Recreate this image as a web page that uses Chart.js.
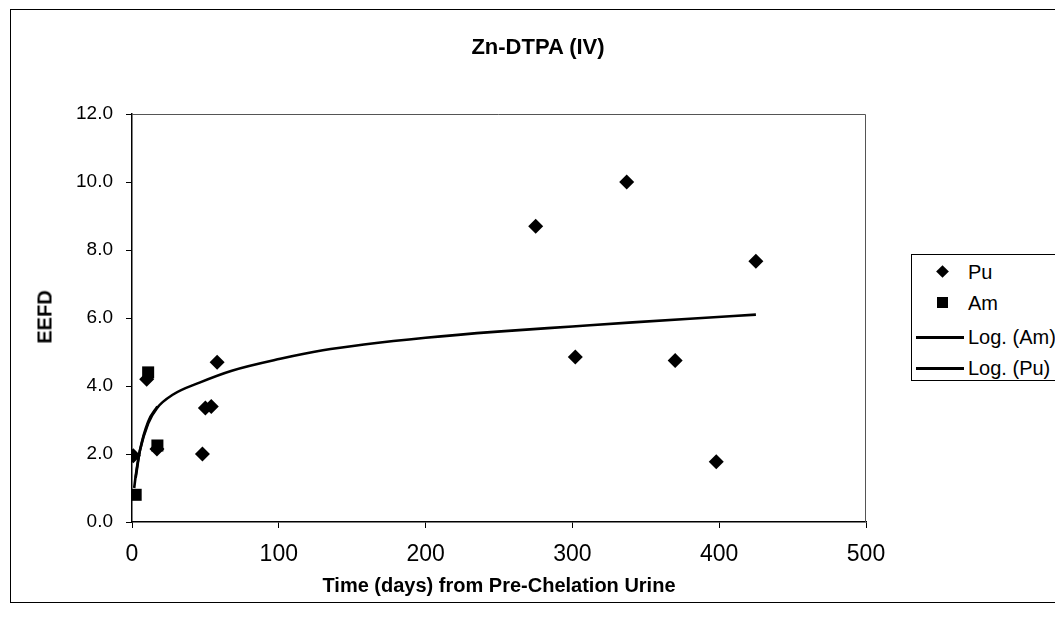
<!DOCTYPE html>
<html>
<head>
<meta charset="utf-8">
<title>Zn-DTPA (IV)</title>
<script src="https://cdn.jsdelivr.net/npm/chart.js@4.4.1/dist/chart.umd.min.js"></script>
<style>
  html,body{margin:0;padding:0;background:#fff;}
  body{width:1055px;height:636px;position:relative;overflow:hidden;font-family:"Liberation Sans",Arial,sans-serif;color:#000;}
  #frame{position:absolute;left:10px;top:9px;width:1060px;height:594px;border:1.5px solid #000;box-sizing:border-box;}
  #wrap{position:absolute;left:0;top:0;width:1055px;height:636px;}
  .ttl{position:absolute;font-weight:bold;white-space:nowrap;transform:translate(-50%,-50%);}
  #title{left:538px;top:47px;font-size:22px;}
  #ytitle{left:45px;top:317px;font-size:20px;transform:translate(-50%,-50%) rotate(-90deg);}
  #xtitle{left:499px;top:585px;font-size:20px;}
  #legend{position:absolute;left:911px;top:254px;width:160px;height:127px;border:1.5px solid #000;box-sizing:border-box;background:#fff;}
  .li{position:absolute;left:0;height:24px;font-size:20px;line-height:24px;}
  .li span{position:absolute;left:56px;top:0;white-space:nowrap;}
  .dia{position:absolute;left:26px;top:7px;width:9px;height:9px;background:#000;transform:rotate(45deg);}
  .sq{position:absolute;left:25px;top:6px;width:11px;height:11px;background:#000;}
  .ln{position:absolute;left:4px;top:11px;width:48px;height:2.6px;background:#000;}
</style>
</head>
<body>
<div id="frame"></div>
<div id="wrap"><canvas id="c"></canvas></div>
<div class="ttl" id="title">Zn-DTPA (IV)</div>
<div class="ttl" id="ytitle">EEFD</div>
<div class="ttl" id="xtitle">Time (days) from Pre-Chelation Urine</div>
<div id="legend">
  <div class="li" style="top:5px"><i class="dia"></i><span>Pu</span></div>
  <div class="li" style="top:36px"><i class="sq"></i><span>Am</span></div>
  <div class="li" style="top:70px"><i class="ln"></i><span>Log. (Am)</span></div>
  <div class="li" style="top:101px"><i class="ln"></i><span>Log. (Pu)</span></div>
</div>
<script>
const puDays = [0.9, 10, 17, 48, 50, 54, 58, 275, 302, 337, 370, 398, 425];
const puEEFD = [1.95, 4.2, 2.15, 2.0, 3.35, 3.4, 4.7, 8.7, 4.85, 10.0, 4.75, 1.77, 7.67];
const amDays = [2.5, 11, 17.3];
const amEEFD = [0.8, 4.4, 2.25];
// trend lines, sampled along the drawn curves
const trendAmDays = [2.5, 5.4, 11, 17.3];
const trendAmEEFD = [1.3, 2.1, 2.95, 3.4];
const trendPuDays = [1.5, 2.5, 5.4, 11, 17, 28, 46, 68, 101, 130, 158, 200, 249, 300, 341, 380, 425];
const trendPuEEFD = [1.0, 1.35, 2.1, 2.9, 3.35, 3.75, 4.1, 4.45, 4.8, 5.05, 5.22, 5.42, 5.6, 5.75, 5.87, 5.98, 6.1];
const xTicks = [0, 100, 200, 300, 400, 500];
const yTicks = [0, 2, 4, 6, 8, 10, 12];

const pts = (xs, ys) => xs.map((x, i) => ({x, y: ys[i]}));
const INK = '#000';

// thin box round the plot area, like the Excel plot frame
const plotFrame = {
  id: 'plotFrame',
  beforeDatasetsDraw(ch) {
    const a = ch.chartArea, c = ch.ctx;
    c.save(); c.strokeStyle = '#555'; c.lineWidth = 1;
    c.beginPath(); c.moveTo(a.left, a.top + .5); c.lineTo(a.right - .5, a.top + .5); c.lineTo(a.right - .5, a.bottom); c.stroke();
    c.restore();
  }
};

Chart.defaults.font.family = '"Liberation Sans", Arial, sans-serif';
Chart.defaults.color = INK;

new Chart(document.getElementById('c'), {
  type: 'scatter',
  data: {datasets: [
    {label: 'Log. (Pu)', data: pts(trendPuDays, trendPuEEFD), showLine: true, borderColor: INK, borderWidth: 2.6, pointRadius: 0, cubicInterpolationMode: 'monotone'},
    {label: 'Log. (Am)', data: pts(trendAmDays, trendAmEEFD), showLine: true, borderColor: INK, borderWidth: 2.6, pointRadius: 0, cubicInterpolationMode: 'monotone'},
    {label: 'Pu', data: pts(puDays, puEEFD), pointStyle: 'rectRot', pointRadius: 7.5, backgroundColor: INK, borderColor: INK, borderWidth: 0},
    {label: 'Am', data: pts(amDays, amEEFD), pointStyle: 'rect', pointRadius: 8.5, backgroundColor: INK, borderColor: INK, borderWidth: 0}
  ]},
  options: {
    responsive: true, maintainAspectRatio: false, animation: false,
    layout: {padding: {left: 0, top: 114, right: 189, bottom: 0}},
    plugins: {legend: {display: false}, tooltip: {enabled: false}},
    scales: {
      x: {
        type: 'linear', min: 0, max: 500,
        afterBuildTicks: s => { s.ticks = xTicks.map(v => ({value: v})); },
        afterFit: s => { s.height = 114; },
        ticks: {font: {size: 23}, padding: 13, color: INK},
        grid: {drawOnChartArea: false, drawTicks: true, tickLength: 6, color: INK, lineWidth: 1},
        border: {color: INK, width: 1.5}
      },
      y: {
        type: 'linear', min: 0, max: 12,
        afterBuildTicks: s => { s.ticks = yTicks.map(v => ({value: v})); },
        afterFit: s => { s.width = 132; },
        ticks: {font: {size: 19}, padding: 13, color: INK, callback: v => v.toFixed(1)},
        grid: {drawOnChartArea: false, drawTicks: true, tickLength: 6, color: INK, lineWidth: 1},
        border: {color: INK, width: 1.5}
      }
    }
  },
  plugins: [plotFrame]
});
</script>
</body>
</html>
